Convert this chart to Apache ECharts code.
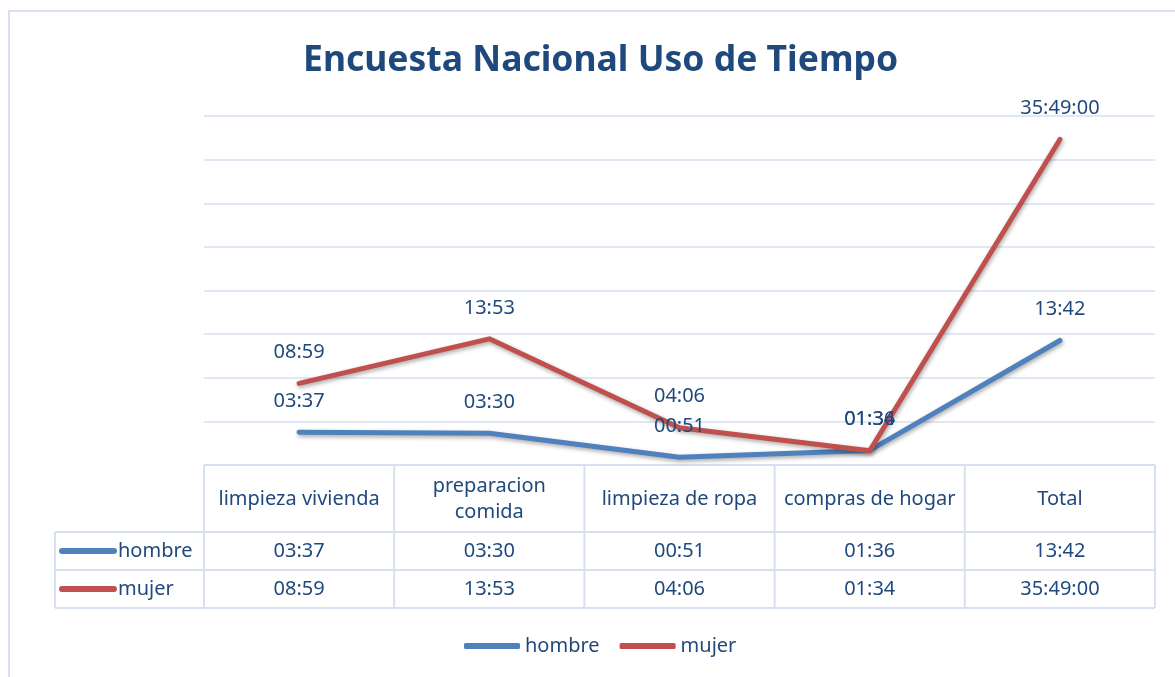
<!DOCTYPE html>
<html>
<head>
<meta charset="utf-8">
<script src="https://cdn.jsdelivr.net/npm/echarts@6/dist/echarts.min.js"></script>
<style>
  html, body { margin: 0; padding: 0; background: #fff; }
  #main { width: 1175px; height: 677px; }
</style>
</head>
<body>
<div id="main"></div>
<script>
var categories = ['limpieza vivienda', 'preparacion\ncomida', 'limpieza de ropa', 'compras de hogar', 'Total'];
var hombre = ['03:37', '03:30', '00:51', '01:36', '13:42'];
var mujer = ['08:59', '13:53', '04:06', '01:34', '35:49:00'];
var seriesNames = ['hombre', 'mujer'];
var colors = ['#4F81BD', '#C0504D'];

var textColor = '#1F497D';
var lineColor = '#D6E0F0';
var font = 'Noto Sans';
var fs = 20;

// "hh:mm" o "hh:mm:ss" -> horas
function toHours(t) {
    var p = t.split(':');
    return +p[0] + (+p[1]) / 60 + (p[2] ? +p[2] / 3600 : 0);
}

var myChart = echarts.init(document.getElementById('main'));

function makeSeries(name, values, color) {
    return {
        name: name,
        type: 'line',
        data: values.map(toHours),
        symbol: 'circle',
        symbolSize: 0,
        showSymbol: true,
        lineStyle: {
            color: color, width: 5, cap: 'round', join: 'round',
            shadowColor: 'rgba(0,0,0,0.35)', shadowBlur: 4, shadowOffsetX: 1, shadowOffsetY: 2
        },
        itemStyle: { color: color },
        label: {
            show: true,
            position: 'top',
            distance: 21,
            fontFamily: font,
            fontSize: fs,
            color: textColor,
            formatter: function (p) { return values[p.dataIndex]; }
        },
        emphasis: { disabled: true }
    };
}

var option = {
    animation: false,
    title: {
        text: 'Encuesta Nacional Uso de Tiempo',
        left: 298,
        top: 38,
        textStyle: { fontFamily: font, fontSize: 35.5, fontWeight: 'bold', color: textColor }
    },
    legend: {
        data: seriesNames,
        left: 459,
        top: 631,
        icon: 'roundRect',
        itemWidth: 56,
        itemHeight: 6,
        itemGap: 20,
        textStyle: { fontFamily: font, fontSize: fs, color: textColor }
    },
    grid: { left: 204, right: 20, top: 116, bottom: 212 },
    xAxis: {
        type: 'category',
        data: categories,
        axisLine: { show: false },
        axisTick: { show: false },
        axisLabel: {
            interval: 0,
            margin: 34,
            verticalAlign: 'middle',
            lineHeight: 26,
            fontFamily: font,
            fontSize: fs,
            color: textColor
        }
    },
    yAxis: {
        type: 'value',
        min: 0,
        max: 38.4,
        interval: 4.8,
        axisLabel: { show: false },
        axisLine: { show: false },
        axisTick: { show: false },
        splitLine: { lineStyle: { color: lineColor, width: 1.5 } }
    },
    series: [
        makeSeries(seriesNames[0], hombre, colors[0]),
        makeSeries(seriesNames[1], mujer, colors[1])
    ]
};

myChart.setOption(option);

// tabla de datos debajo del grafico
var rowTop = 465, rowHead = 532, row1 = 570, row2 = 608;
var keyLeft = 55;
var centers = categories.map(function (c, i) { return myChart.convertToPixel({ xAxisIndex: 0 }, i); });
var half = centers.length > 1 ? (centers[1] - centers[0]) / 2 : 95;
var tLeft = centers[0] - half, tRight = centers[centers.length - 1] + half;

var g = [];
function hline(x1, x2, y) {
    g.push({ type: 'line', shape: { x1: x1, y1: y, x2: x2, y2: y }, style: { stroke: lineColor, lineWidth: 2 }, silent: true });
}
function vline(x, y1, y2) {
    g.push({ type: 'line', shape: { x1: x, y1: y1, x2: x, y2: y2 }, style: { stroke: lineColor, lineWidth: 2 }, silent: true });
}
function cell(txt, x, y, align) {
    g.push({ type: 'text', x: x, y: y, silent: true,
        style: { text: txt, fontFamily: font, fontSize: fs, fill: textColor, align: align || 'center', verticalAlign: 'middle' } });
}

// borde exterior
g.push({ type: 'rect', shape: { x: 9, y: 11, width: 1200, height: 700 }, style: { fill: null, stroke: lineColor, lineWidth: 2 }, silent: true });

hline(tLeft, tRight, rowTop);
hline(keyLeft, tRight, rowHead);
hline(keyLeft, tRight, row1);
hline(keyLeft, tRight, row2);
vline(keyLeft, rowHead, row2);
for (var i = 0; i <= centers.length; i++) {
    vline(tLeft + i * half * 2, rowTop, row2);
}

[hombre, mujer].forEach(function (vals, r) {
    var yc = r === 0 ? (rowHead + row1) / 2 : (row1 + row2) / 2;
    g.push({ type: 'line', shape: { x1: 62, y1: yc, x2: 114, y2: yc }, silent: true,
        style: { stroke: colors[r], lineWidth: 6, lineCap: 'round' } });
    cell(seriesNames[r], 118, yc, 'left');
    vals.forEach(function (v, i) { cell(v, centers[i], yc); });
});

myChart.setOption({ graphic: g });
</script>
</body>
</html>
